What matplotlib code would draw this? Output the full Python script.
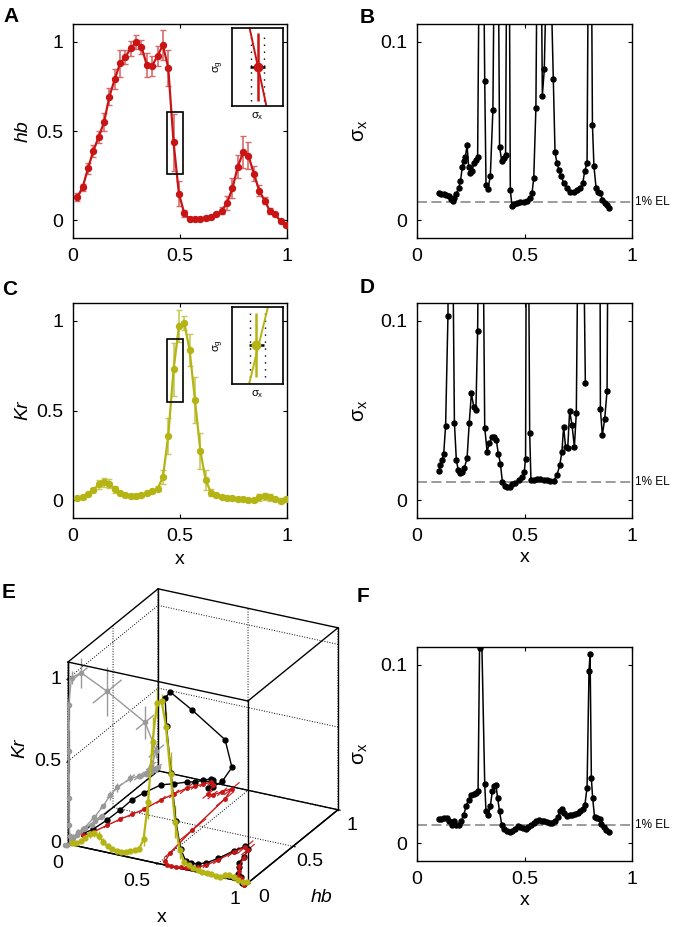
import numpy as np
import matplotlib
matplotlib.use("Agg")
import matplotlib.pyplot as plt
from matplotlib.patches import Rectangle
from matplotlib.transforms import blended_transform_factory
from mpl_toolkits.mplot3d import proj3d

plt.rcParams['font.family'] = ['Liberation Sans', 'DejaVu Sans']
plt.rcParams['mathtext.fontset'] = 'custom'
plt.rcParams['mathtext.rm'] = 'Liberation Sans'
plt.rcParams['mathtext.it'] = 'Liberation Sans:italic'

# ---- data -------------------------------------------------------------
# sample positions along the embryo (A, C, E)
xs = [0.020, 0.045, 0.070, 0.095, 0.120, 0.145, 0.170, 0.195, 0.220, 0.245,
      0.270, 0.295, 0.320, 0.345, 0.370, 0.395, 0.420, 0.445, 0.470, 0.495,
      0.520, 0.545, 0.570, 0.595, 0.620, 0.645, 0.670, 0.695, 0.720, 0.745,
      0.770, 0.795, 0.820, 0.845, 0.870, 0.895, 0.920, 0.945, 0.970, 0.995]

hb = [0.128, 0.184, 0.290, 0.389, 0.467, 0.549, 0.693, 0.790, 0.879, 0.916,
      0.963, 1.000, 0.972, 0.870, 0.866, 0.922, 0.981, 0.855, 0.436, 0.147,
      0.039, 0.006, 0.006, 0.009, 0.011, 0.019, 0.032, 0.054, 0.097, 0.179,
      0.300, 0.380, 0.361, 0.261, 0.166, 0.110, 0.052, 0.032, -0.006, -0.028]
hb_err = [0.022, 0.02, 0.033, 0.033, 0.035, 0.05, 0.05, 0.055, 0.075, 0.04,
          0.04, 0.04, 0.04, 0.065, 0.055, 0.055, 0.085, 0.10, 0.16, 0.07,
          0.02, 0.012, 0.01, 0.01, 0.01, 0.01, 0.01, 0.02, 0.04, 0.055,
          0.065, 0.09, 0.075, 0.04, 0.03, 0.02, 0.015, 0.01, 0.01, 0.01]

kr = [0.013, 0.017, 0.032, 0.056, 0.087, 0.099, 0.091, 0.061, 0.037, 0.028,
      0.022, 0.022, 0.030, 0.037, 0.048, 0.063, 0.128, 0.357, 0.729, 0.970,
      0.989, 0.836, 0.558, 0.275, 0.112, 0.041, 0.028, 0.019, 0.013, 0.009,
      0.007, 0.004, 0.002, 0.002, 0.015, 0.022, 0.015, 0.007, -0.004, 0.004]
kr_err = [0.01, 0.01, 0.01, 0.01, 0.025, 0.025, 0.025, 0.02, 0.01, 0.01,
          0.01, 0.01, 0.01, 0.01, 0.01, 0.015, 0.04, 0.10, 0.15, 0.09,
          0.04, 0.09, 0.13, 0.10, 0.055, 0.02, 0.01, 0.01, 0.01, 0.01,
          0.01, 0.01, 0.01, 0.01, 0.02, 0.02, 0.02, 0.01, 0.015, 0.01]

# positional error sigma_x (B: hb, D: Kr, F: both)
bx = [0.101, 0.112, 0.124, 0.136, 0.147, 0.158, 0.166, 0.174, 0.183, 0.194,
      0.202, 0.211, 0.217, 0.225, 0.233, 0.240, 0.248, 0.256, 0.264, 0.273,
      0.282, 0.299, 0.315, 0.321, 0.330, 0.341, 0.353, 0.370, 0.384, 0.394,
      0.403, 0.412, 0.424, 0.434, 0.442, 0.453, 0.465, 0.481, 0.496, 0.512,
      0.527, 0.535, 0.543, 0.553, 0.568, 0.583, 0.592, 0.604, 0.620, 0.634,
      0.642, 0.651, 0.660, 0.671, 0.682, 0.698, 0.713, 0.729, 0.744, 0.760,
      0.771, 0.780, 0.791, 0.804, 0.816, 0.823, 0.833, 0.842, 0.853, 0.862,
      0.873, 0.884, 0.895]
by = [0.0153, 0.0149, 0.0145, 0.0143, 0.0134, 0.0119, 0.0106, 0.0125, 0.0149, 0.018,
      0.0218, 0.030, 0.033, 0.0357, 0.0419, 0.030, 0.0264, 0.0274, 0.032, 0.0339,
      0.0357, 0.3, 0.078, 0.0196, 0.0175, 0.0246, 0.0618, 0.3, 0.0413, 0.033,
      0.0348, 0.0367, 0.3, 0.0168, 0.0078, 0.0093, 0.0097, 0.0101, 0.0102, 0.0106,
      0.0125, 0.0153, 0.0236, 0.0628, 0.3, 0.0698, 0.0845, 0.15, 0.15, 0.079,
      0.038, 0.032, 0.0283, 0.0246, 0.0209, 0.018, 0.0156, 0.016, 0.0168, 0.018,
      0.0209, 0.0274, 0.032, 0.3, 0.0534, 0.0302, 0.018, 0.0156, 0.0153, 0.0115,
      0.0097, 0.0084, 0.0069]

dx = [0.101, 0.109, 0.116, 0.124, 0.133, 0.144, 0.155, 0.174, 0.183, 0.192,
      0.202, 0.211, 0.220, 0.233, 0.243, 0.253, 0.264, 0.274, 0.282, 0.297,
      0.315, 0.326, 0.336, 0.347, 0.360, 0.369, 0.378, 0.388, 0.397, 0.408,
      0.419, 0.431, 0.443, 0.457, 0.473, 0.488, 0.499, 0.505, 0.512, 0.524,
      0.530, 0.543, 0.558, 0.574, 0.589, 0.605, 0.620, 0.636, 0.651, 0.664,
      0.674, 0.682, 0.691, 0.701, 0.710, 0.721, 0.732, 0.741, 0.760, 0.783,
      np.nan, 0.848, 0.853, 0.862, 0.873, 0.884, 0.895]
dy = [0.0164, 0.0195, 0.0223, 0.0255, 0.0413, 0.103, 0.3, 0.0431, 0.0223, 0.0167,
      0.0149, 0.0158, 0.0177, 0.0236, 0.0431, 0.0595, 0.052, 0.0502, 0.0944, 0.3,
      0.0405, 0.027, 0.0316, 0.035, 0.0353, 0.0335, 0.026, 0.0204, 0.0102, 0.0078,
      0.0071, 0.0074, 0.0087, 0.0097, 0.0112, 0.013, 0.0158, 0.0232, 0.3, 0.0376,
      0.0112, 0.0112, 0.0115, 0.0115, 0.0112, 0.0112, 0.0108, 0.0108, 0.0139, 0.0195,
      0.027, 0.0409, 0.0297, 0.0288, 0.0498, 0.0418, 0.0297, 0.0487, 0.3, 0.0654,
      np.nan, 0.3, 0.0511, 0.0363, 0.0452, 0.061, 0.3]

fx = [0.101, 0.112, 0.124, 0.140, 0.150, 0.161, 0.171, 0.183, 0.194, 0.206,
      0.217, 0.229, 0.240, 0.251, 0.264, 0.274, 0.284, 0.291, 0.296, 0.315,
      0.321, 0.332, 0.341, 0.350, 0.360, 0.367, 0.375, 0.384, 0.394, 0.406,
      0.419, 0.431, 0.443, 0.456, 0.468, 0.481, 0.493, 0.505, 0.518, 0.530,
      0.543, 0.555, 0.567, 0.580, 0.592, 0.605, 0.617, 0.629, 0.642, 0.654,
      0.667, 0.676, 0.685, 0.698, 0.710, 0.722, 0.735, 0.747, 0.760, 0.772,
      0.781, 0.791, 0.800, 0.805, 0.811, 0.817, 0.826, 0.837, 0.850, 0.857,
      0.868, 0.879, 0.891]
fy = [0.0138, 0.0138, 0.0139, 0.0141, 0.0123, 0.0104, 0.0123, 0.0104, 0.0104, 0.0123,
      0.016, 0.0206, 0.0244, 0.0271, 0.0275, 0.0281, 0.029, 0.1095, 0.145, 0.0331,
      0.0178, 0.0156, 0.0206, 0.029, 0.0318, 0.0327, 0.0253, 0.0178, 0.0104, 0.008,
      0.0067, 0.0061, 0.0067, 0.008, 0.0095, 0.0089, 0.0086, 0.0082, 0.0089, 0.0104,
      0.0113, 0.0123, 0.0128, 0.0123, 0.0126, 0.0119, 0.0113, 0.0113, 0.0123, 0.0145,
      0.0178, 0.0191, 0.0169, 0.0154, 0.0156, 0.016, 0.0164, 0.0169, 0.0178, 0.0193,
      0.0216, 0.0312, 0.0967, 0.106, 0.0364, 0.0253, 0.0145, 0.0141, 0.0138, 0.011,
      0.0089, 0.0074, 0.0061]

el_level = 0.01
tick_vals = [0, 0.5, 1]
tick_text = ['0', '0.5', '1']

# schematic insets (line through the point, error bars, dotted sigma_x bounds)
insA_line_x, insA_line_y = [-0.31, 0.35], [1.0, -1.0]
insA_pt, insA_yerr, insA_xerr, insA_dots = (0.0, 0.0), 0.86, 0.28, [-0.27, 0.25]
insC_line_x, insC_line_y = [-0.33, 0.41], [-1.0, 1.0]
insC_pt, insC_yerr, insC_xerr, insC_dots = (-0.04, 0.02), 0.83, 0.28, [-0.28, 0.29]

RED = '#c81414'
RED_ERR = '#d86a6a'
YEL = '#b4b414'
YEL_ERR = '#c8c85a'
GRAY = '#999999'
FS = 14

W, H = 680, 927
fig = plt.figure(figsize=(W / 100, H / 100), dpi=100)


def px_axes(l, t, r, b, **kw):
    return fig.add_axes([l / W, 1 - b / H, (r - l) / W, (b - t) / H], **kw)


def ptext(x, y, s, **kw):
    # text placed in page pixels (origin top-left)
    return fig.text(x / W, 1 - y / H, s, **kw)


def matlab_style(ax, yticks, ylim):
    ax.set_xlim(0, 1)
    ax.set_ylim(*ylim)
    ax.set_xticks(tick_vals)
    ax.set_xticklabels(tick_text)
    ax.set_yticks(yticks)
    ax.set_yticklabels(['%g' % t for t in yticks])
    ax.tick_params(direction='in', length=3, width=0.8, top=True, right=True,
                   labelsize=FS, pad=7)
    for s in ax.spines.values():
        s.set_linewidth(1.0)


def profile_panel(ax, y, yerr, col, ecol, label, rect, xlabel=False):
    ax.errorbar(xs, y, yerr=yerr, fmt='none', ecolor=ecol, elinewidth=1.2,
                capsize=2.5, capthick=1.0, zorder=2)
    ax.plot(xs, y, '-o', color=col, lw=1.6, ms=4.3, zorder=3)
    matlab_style(ax, tick_vals, (-0.1, 1.1))
    ax.set_ylabel(label, fontsize=FS, style='italic')
    ax.yaxis.set_label_coords(-0.195, 0.5)
    ax.add_patch(Rectangle(rect[:2], rect[2], rect[3], fill=False,
                           lw=1.2, ec='k', zorder=4))
    if xlabel:
        ax.set_xlabel('x', fontsize=FS)
        ax.xaxis.set_label_coords(0.5, -0.155)


def sigma_panel(ax, x, y, xlabel=False):
    ax.axhline(el_level, color='0.5', lw=1.1, dashes=(6.5, 3), zorder=1)
    ax.plot(x, y, '-o', color='k', lw=1.1, ms=3.6, zorder=2)
    matlab_style(ax, [0, 0.1], (-0.01, 0.11))
    ax.set_ylabel('σ$_{\\rm x}$', fontsize=FS + 1, rotation=90)
    ax.yaxis.set_label_coords(-0.22, 0.5)
    tr = blended_transform_factory(ax.transAxes, ax.transData)
    ax.text(1.015, el_level, '1% EL', transform=tr, fontsize=8.5,
            va='center', ha='left')
    if xlabel:
        ax.set_xlabel('x', fontsize=FS)
        ax.xaxis.set_label_coords(0.5, -0.145)


def inset(l, t, r, b, lx, ly, pt, yerr, xerr, dots, col):
    ax = px_axes(l, t, r, b)
    ax.set_xlim(-1, 1)
    ax.set_ylim(-1, 1)
    ax.set_xticks([])
    ax.set_yticks([])
    for s in ax.spines.values():
        s.set_linewidth(1.2)
    for d in dots:
        ax.plot([d, d], [pt[1] - yerr, pt[1] + yerr], color='k',
                lw=1.0, ls=(0, (1, 4)))
    ax.plot(lx, ly, color=col, lw=1.4)
    ax.errorbar([pt[0]], [pt[1]], yerr=[yerr], fmt='none', ecolor=col,
                elinewidth=1.8, capsize=0)
    ax.errorbar([pt[0]], [pt[1]], xerr=[xerr], fmt='none', ecolor='k',
                elinewidth=1.8, capsize=0)
    ax.plot([pt[0]], [pt[1]], 'o', color=col, ms=6)
    ax.set_ylabel('σ$_{\\rm g}$', fontsize=8, labelpad=4)
    ax.set_xlabel('σ$_{\\rm x}$', fontsize=8, labelpad=3)
    return ax


# ---- A / C profiles ---------------------------------------------------
axA = px_axes(73, 24, 287, 238)
profile_panel(axA, hb, hb_err, RED, RED_ERR, 'hb', (0.44, 0.257, 0.072, 0.352))
axC = px_axes(73, 303, 287, 518)
profile_panel(axC, kr, kr_err, YEL, YEL_ERR, 'Kr', (0.44, 0.548, 0.072, 0.353),
              xlabel=True)

inset(232, 28, 283, 106, insA_line_x, insA_line_y, insA_pt, insA_yerr,
      insA_xerr, insA_dots, RED)
inset(232, 307, 283, 384, insC_line_x, insC_line_y, insC_pt, insC_yerr,
      insC_xerr, insC_dots, YEL)

# ---- B / D / F sigma_x ------------------------------------------------
axB = px_axes(417, 24, 632, 238)
sigma_panel(axB, bx, by)
axD = px_axes(417, 303, 632, 518)
sigma_panel(axD, dx, dy, xlabel=True)
axF = px_axes(417, 647, 632, 861)
sigma_panel(axF, fx, fy, xlabel=True)

# ---- E: 3D trajectory -------------------------------------------------
axE = fig.add_axes([0.0, 0.0, 400 / W, 400 / H], projection='3d')
axE.set_proj_type('ortho')
axE.view_init(elev=24.8, azim=-62.7)
axE.set_box_aspect((1, 0.97, 0.99))
axE.set_xlim(0, 1)
axE.set_ylim(0, 1)
axE.set_zlim(0, 1.1)
axE.computed_zorder = False
axE.patch.set_alpha(0)
for a in (axE.xaxis, axE.yaxis, axE.zaxis):
    a.set_pane_color((1, 1, 1, 0))
    a.pane.set_edgecolor('none')
    a.line.set_color('k')
    a.line.set_linewidth(1.0)
    a._axinfo['grid'].update(color='k', linestyle=':', linewidth=0.7)
    a._axinfo['tick'].update(inward_factor=0.15, outward_factor=0.0)
axE.zaxis.set_ticks_position('lower')
axE.set_xticks(tick_vals)
axE.set_yticks(tick_vals)
axE.set_zticks(tick_vals)
# tick labels of E are placed as page text below (MATLAB-like offsets)
axE.set_xticklabels([])
axE.set_yticklabels([])
axE.set_zticklabels([])

n = len(xs)
zeros = [0.0] * n
axE.errorbar(zeros, hb, kr, yerr=hb_err, zerr=kr_err, color=GRAY, ecolor=GRAY,
             elinewidth=1.0, lw=1.0, marker='o', ms=3, capsize=0)
axE.errorbar(xs, hb, zeros, yerr=hb_err, color=RED, ecolor=RED, elinewidth=0.8,
             lw=1.0, marker='o', ms=2.5, capsize=0)
axE.errorbar(xs, zeros, kr, zerr=kr_err, color=YEL, ecolor=YEL, elinewidth=1.0,
             lw=1.6, marker='o', ms=3.5, capsize=0)
axE.plot(xs, hb, kr, '-o', color='k', lw=1.0, ms=3.5)

# box edges
for (p, q) in [((0, 0, 0), (1, 0, 0)), ((0, 1, 0), (1, 1, 0)),
               ((0, 0, 1.1), (1, 0, 1.1)), ((0, 1, 1.1), (1, 1, 1.1)),
               ((0, 0, 0), (0, 1, 0)), ((1, 0, 0), (1, 1, 0)),
               ((0, 0, 1.1), (0, 1, 1.1)), ((1, 0, 1.1), (1, 1, 1.1)),
               ((0, 0, 0), (0, 0, 1.1)), ((1, 0, 0), (1, 0, 1.1)),
               ((0, 1, 0), (0, 1, 1.1)), ((1, 1, 0), (1, 1, 1.1))]:
    axE.plot([p[0], q[0]], [p[1], q[1]], [p[2], q[2]], color='k', lw=1.0)


def corner_px(ax, pt3):
    M = ax.get_proj()
    x2, y2, _ = proj3d.proj_transform(pt3[0], pt3[1], pt3[2], M)
    return ax.transData.transform((x2, y2))


# fit the cube: origin at (68, 844) page px, width to (1,1,0) of 270 px
fig.canvas.draw()
p0 = corner_px(axE, (0, 0, 0))
p1 = corner_px(axE, (1, 1, 0))
ratio = 270.0 / (p1[0] - p0[0])
bb = axE.get_position()
side = bb.width * W
cx, cy = (bb.x0 + bb.width / 2) * W, (bb.y0 + bb.height / 2) * H
tx, ty = 68.0, H - 844.0
ncx = tx - (p0[0] - cx) * ratio
ncy = ty - (p0[1] - cy) * ratio
ns = side * ratio
axE.set_position([(ncx - ns / 2) / W, (ncy - ns / 2) / H, ns / W, ns / H])

# E tick labels and axis labels
for s, (px, py) in zip(tick_text, [(58, 863), (137, 881), (235, 900)]):
    ptext(px, py, s, fontsize=FS, ha='center', va='center')
for s, (px, py) in zip(tick_text, [(264, 897), (310, 861), (352, 825)]):
    ptext(px, py, s, fontsize=FS, ha='center', va='center')
for s, py in zip(tick_text, [844, 762, 679]):
    ptext(61, py, s, fontsize=FS, ha='right', va='center')
ptext(20, 748, 'Kr', fontsize=FS, style='italic', rotation=90,
      ha='center', va='center')
ptext(162, 918, 'x', fontsize=FS, ha='center', va='center')
ptext(322, 897, 'hb', fontsize=FS, style='italic', ha='center', va='center')

# panel letters
for lab, (lx, ly) in {'A': (3, 7), 'B': (360, 8), 'C': (2, 280),
                      'D': (360, 278), 'E': (2, 583), 'F': (357, 587)}.items():
    ptext(lx, ly, lab, fontsize=15, weight='bold', ha='left', va='top')

fig.savefig('out.png', dpi=100)
